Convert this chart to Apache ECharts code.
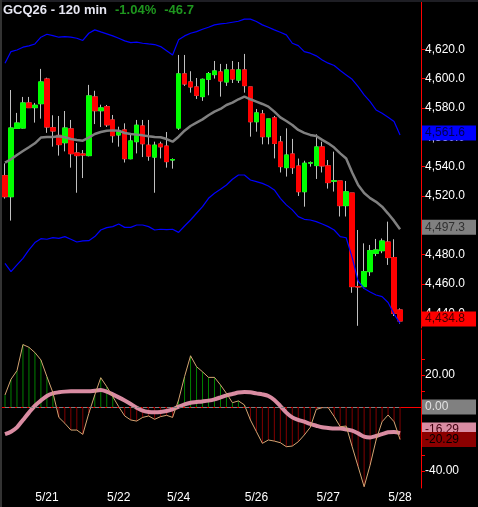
<!DOCTYPE html>
<html>
<head>
<meta charset="utf-8">
<script src="https://cdn.jsdelivr.net/npm/echarts@6/dist/echarts.min.js"></script>
<style>
  html, body { margin: 0; padding: 0; background: #000; }
  #wrap { position: relative; width: 478px; height: 507px; }
  #chart { width: 478px; height: 507px; }
  .edge-top { position: absolute; left: 0; top: 0; width: 478px; height: 2px; background: #1e1e24; }
  .edge-left { position: absolute; left: 0; top: 0; width: 2px; height: 507px; background: #333; }
</style>
</head>
<body>
<div id="wrap">
  <div id="chart"></div>
  <div class="edge-top"></div>
  <div class="edge-left"></div>
</div>
<script>
// 120 min bars, 67 candles + 3 empty slots on the right
const slots = 70;
const dayIdx = [7, 19, 29, 42, 54, 66];
const dayNames = ['5/21', '5/22', '5/24', '5/26', '5/27', '5/28'];

const open = [4533.8, 4519.5, 4566.0, 4566.3, 4583.4, 4580.2, 4582.9, 4599.7, 4566.5, 4561.3,
  4556.3, 4565.7, 4549.3, 4548.6, 4547.5, 4587.5, 4578.1, 4580.8, 4571.8, 4561.6,
  4565.0, 4545.4, 4557.0, 4567.7, 4554.6, 4546.5, 4555.4, 4554.0, 4544.5, 4566.3,
  4603.2, 4597.7, 4594.3, 4587.7, 4599.5, 4602.7, 4604.5, 4597.7, 4605.9, 4599.0,
  4605.9, 4594.3, 4570.6, 4575.9, 4560.4, 4573.2, 4556.8, 4539.3, 4548.6, 4540.4,
  4522.9, 4542.4, 4540.7, 4553.4, 4540.5, 4530.1, 4530.2, 4513.4, 4522.0, 4458.2,
  4458.2, 4468.4, 4480.9, 4482.7, 4488.6, 4478.0, 4442.3];
const close = [4519.5, 4566.3, 4569.7, 4583.4, 4580.2, 4581.8, 4597.7, 4567.0, 4564.3, 4555.0,
  4566.3, 4548.8, 4547.5, 4547.9, 4588.2, 4578.1, 4580.0, 4568.5, 4561.1, 4563.6,
  4545.4, 4557.5, 4568.2, 4555.6, 4547.2, 4554.6, 4553.5, 4543.4, 4544.8, 4603.2,
  4596.3, 4594.3, 4588.6, 4599.5, 4603.4, 4605.2, 4598.4, 4605.9, 4599.7, 4605.9,
  4595.2, 4570.6, 4576.6, 4560.4, 4572.5, 4555.8, 4540.0, 4547.9, 4539.3, 4522.9,
  4542.3, 4542.6, 4553.4, 4540.5, 4529.1, 4530.3, 4513.4, 4522.8, 4458.2, 4458.0,
  4468.4, 4482.7, 4483.2, 4489.3, 4478.0, 4440.0, 4434.8];
const low = [4518.2, 4503.2, 4565.9, 4566.0, 4580.0, 4570.0, 4572.7, 4563.0, 4553.6, 4547.5,
  4550.4, 4539.3, 4522.2, 4532.2, 4547.0, 4569.0, 4567.0, 4567.0, 4556.3, 4553.6,
  4542.8, 4545.0, 4549.0, 4546.5, 4544.0, 4522.2, 4545.6, 4539.3, 4538.6, 4565.0,
  4595.0, 4590.4, 4586.1, 4584.8, 4588.6, 4600.0, 4587.7, 4595.0, 4597.0, 4597.0,
  4590.4, 4560.4, 4563.8, 4555.2, 4555.2, 4545.6, 4536.0, 4533.2, 4535.0, 4520.0,
  4512.7, 4540.0, 4531.6, 4536.0, 4525.0, 4523.0, 4506.0, 4506.0, 4454.0, 4431.5,
  4457.0, 4465.5, 4479.0, 4481.0, 4473.0, 4438.2, 4433.0];
const high = [4542.2, 4592.2, 4576.6, 4587.5, 4587.5, 4583.4, 4606.6, 4600.6, 4575.0, 4574.5,
  4577.9, 4571.8, 4556.1, 4551.3, 4595.7, 4591.7, 4582.2, 4582.0, 4575.2, 4567.2,
  4569.5, 4562.5, 4571.8, 4571.8, 4571.8, 4557.0, 4557.0, 4563.6, 4545.6, 4616.1,
  4616.1, 4605.0, 4600.4, 4600.0, 4604.5, 4612.0, 4610.0, 4610.0, 4612.0, 4611.3,
  4616.8, 4594.3, 4579.3, 4578.6, 4572.5, 4574.5, 4560.9, 4566.1, 4558.9, 4545.5,
  4544.0, 4543.5, 4562.0, 4557.0, 4544.5, 4550.2, 4530.2, 4530.2, 4522.0, 4496.8,
  4487.7, 4486.6, 4490.7, 4491.0, 4502.5, 4490.5, 4443.4];

const bbUpper = [4610.5, 4618.4, 4619.5, 4621.4, 4622.3, 4623.6, 4628.2, 4630.2, 4629.3, 4628.2,
  4628.6, 4628.2, 4627.5, 4626.0, 4630.9, 4633.2, 4631.8, 4630.5, 4629.1, 4627.5,
  4625.7, 4624.5, 4624.8, 4624.1, 4623.6, 4623.2, 4621.8, 4619.0, 4616.1, 4626.4,
  4629.1, 4630.9, 4632.0, 4633.6, 4635.0, 4636.6, 4637.3, 4637.7, 4638.4, 4639.1,
  4640.5, 4640.5, 4638.9, 4636.6, 4635.0, 4633.2, 4631.6, 4629.8, 4624.1, 4622.5,
  4618.4, 4617.3, 4615.5, 4612.7, 4610.5, 4608.9, 4605.5, 4602.5, 4599.5, 4594.5,
  4588.9, 4584.3, 4578.6, 4576.4, 4573.6, 4570.7, 4561.6];
const bbLower = [4474.1, 4468.4, 4473.0, 4477.5, 4483.2, 4488.2, 4490.9, 4490.5, 4491.6, 4491.1,
  4492.3, 4490.5, 4488.6, 4489.4, 4489.5, 4492.3, 4496.8, 4498.4, 4499.1, 4500.9,
  4498.6, 4498.6, 4500.2, 4500.2, 4499.1, 4496.8, 4497.3, 4497.0, 4497.3, 4495.2,
  4499.5, 4503.6, 4508.2, 4512.7, 4518.4, 4521.8, 4524.5, 4527.5, 4531.4, 4534.3,
  4534.3, 4530.9, 4529.8, 4528.6, 4526.8, 4524.1, 4518.4, 4513.9, 4510.5, 4505.9,
  4504.1, 4503.6, 4502.5, 4500.9, 4499.1, 4496.8, 4492.3, 4491.5, 4478.0, 4462.0,
  4457.0, 4454.5, 4452.5, 4451.4, 4447.4, 4439.5, 4433.2];
const ma = [4542.7, 4545.0, 4547.9, 4550.6, 4553.2, 4555.9, 4559.8, 4560.2, 4560.2, 4560.7,
  4560.0, 4558.8, 4558.2, 4557.7, 4559.8, 4562.2, 4563.6, 4564.5, 4564.7, 4564.5,
  4562.9, 4562.2, 4561.8, 4561.3, 4560.7, 4560.2, 4560.0, 4558.8, 4557.0, 4560.4,
  4564.5, 4567.7, 4570.0, 4572.2, 4575.0, 4577.5, 4579.3, 4582.0, 4583.6, 4585.9,
  4587.7, 4585.9, 4584.3, 4582.7, 4580.9, 4577.5, 4573.6, 4571.1, 4568.4, 4565.0,
  4563.0, 4561.6, 4560.9, 4558.2, 4555.9, 4553.0, 4549.0, 4545.5, 4536.0, 4527.5,
  4522.0, 4518.5, 4516.0, 4512.7, 4508.0, 4503.0, 4497.3];

const macd = [7.5, 17.3, 22.7, 39.0, 37.3, 34.0, 29.4, 19.0, 9.0, -6.5,
  -10.2, -14.4, -14.4, -17.1, -4.0, 7.5, 18.3, 12.7, 6.5, 0.2,
  -5.6, -8.1, -8.8, -6.5, -5.6, -7.7, -6.0, -5.2, -6.5, 4.4,
  19.0, 32.0, 25.2, 22.0, 18.5, 18.5, 13.8, 8.5, 2.7, 3.8,
  1.3, -8.1, -15.4, -22.7, -20.6, -21.3, -22.3, -24.8, -24.4, -21.7,
  -17.5, -12.7, -1.5, -0.4, -0.4, -6.0, -12.3, -11.9, -24.8, -37.3,
  -49.8, -36.3, -20.6, -9.2, -5.0, -9.2, -20.29];
const signal = [-16.9, -15.4, -12.7, -8.1, -3.5, 0.8, 4.0, 6.9, 8.5, 9.2,
  9.6, 9.8, 9.8, 9.8, 9.8, 10.2, 10.6, 9.6, 7.9, 6.0,
  4.0, 1.9, -0.4, -2.3, -3.1, -3.3, -3.1, -2.5, -1.5, 0.2,
  1.7, 2.7, 3.1, 3.5, 4.0, 4.8, 6.0, 7.3, 8.1, 9.0,
  9.4, 9.2, 8.5, 7.9, 6.9, 4.4, 0.6, -3.5, -6.5, -8.1,
  -9.2, -10.6, -11.7, -12.7, -13.1, -13.5, -13.5, -14.0, -14.8, -16.5,
  -18.5, -19.0, -18.1, -16.9, -15.8, -15.6, -16.29];

const priceTicks = [4440, 4460, 4480, 4500, 4520, 4540, 4560, 4580, 4600, 4620];
const macdTicks = [-40, -30, -20, -10, 0, 10, 20, 30];
const macdLabels = [-40, -20, 0, 20];

const FONT = '"Liberation Sans", Arial, sans-serif';
const last = close.length - 1;
const cats = Array.from({ length: slots }, (_, i) => String(i));
const fmtPrice = v => v.toLocaleString('en-US', { minimumFractionDigits: 1, maximumFractionDigits: 1 });

function tag(bg, fg, text, offsetY) {
  return {
    show: true,
    position: 'end',
    distance: 1,
    formatter: text,
    backgroundColor: bg,
    color: fg,
    padding: [2, 3, 1, 3],
    width: 48,
    fontSize: 12,
    fontFamily: FONT,
    offset: [0, offsetY || 0]
  };
}

function marker(value, bg, fg, text, offsetY) {
  return {
    silent: true,
    symbol: 'none',
    lineStyle: { color: 'transparent', width: 0 },
    label: tag(bg, fg, text, offsetY),
    data: [{ yAxis: value }]
  };
}

const chart = echarts.init(document.getElementById('chart'));

const option = {
  backgroundColor: '#000',
  animation: false,
  title: {
    left: 3,
    top: 4,
    padding: 0,
    text: '{a|GCQ26 - 120 min}{b|-1.04%}{b|-46.7}',
    textStyle: {
      rich: {
        a: { color: '#e6e6f2', fontSize: 13, fontFamily: FONT },
        b: { color: '#1e961e', fontSize: 13, fontFamily: FONT, padding: [0, 0, 0, 8] }
      }
    }
  },
  grid: [
    { left: 2, right: 57, top: 2, height: 326 },
    { left: 2, right: 57, top: 330, height: 158 }
  ],
  xAxis: [
    {
      gridIndex: 0,
      type: 'category',
      data: cats,
      axisLine: { show: false },
      axisTick: { show: false },
      axisLabel: { show: false }
    },
    {
      gridIndex: 1,
      type: 'category',
      data: cats,
      axisLine: { lineStyle: { color: '#ff0000', width: 1 } },
      axisTick: {
        alignWithLabel: true,
        length: 5,
        interval: idx => dayIdx.includes(idx),
        lineStyle: { color: '#ff0000' }
      },
      axisLabel: {
        interval: idx => dayIdx.includes(idx),
        formatter: (v, idx) => dayNames[dayIdx.indexOf(idx)] || '',
        color: '#fff',
        fontSize: 12,
        fontFamily: FONT,
        margin: 4
      }
    }
  ],
  yAxis: [
    {
      gridIndex: 0,
      position: 'right',
      z: 0,
      min: 4430,
      max: 4652.2,
      axisLine: { show: true, onZero: false, lineStyle: { color: '#ff0000', width: 1 } },
      axisTick: { show: true, length: 4, customValues: priceTicks, lineStyle: { color: '#ff0000' } },
      axisLabel: {
        customValues: priceTicks,
        formatter: fmtPrice,
        color: '#fff',
        fontSize: 12,
        fontFamily: FONT,
        margin: 4
      },
      splitLine: { show: false }
    },
    {
      gridIndex: 1,
      position: 'right',
      z: 0,
      min: -50.6,
      max: 48.1,
      axisLine: { show: true, onZero: false, lineStyle: { color: '#ff0000', width: 1 } },
      axisTick: { show: true, length: 4, customValues: macdTicks, lineStyle: { color: '#ff0000' } },
      axisLabel: {
        customValues: macdLabels,
        formatter: v => v.toFixed(2),
        color: '#fff',
        fontSize: 12,
        fontFamily: FONT,
        margin: 4
      },
      splitLine: { show: false }
    }
  ],
  series: [
    {
      name: 'wicks',
      type: 'candlestick',
      xAxisIndex: 0,
      yAxisIndex: 0,
      barWidth: 5,
      data: open.map((o, i) => [o, close[i], low[i], high[i]]),
      itemStyle: {
        color: '#00ff00', color0: '#ff0000',
        borderColor: '#c0c0c0', borderColor0: '#c0c0c0', borderWidth: 1
      }
    },
    {
      name: 'upper',
      type: 'line',
      xAxisIndex: 0,
      yAxisIndex: 0,
      data: bbUpper,
      symbol: 'none',
      clip: false,
      lineStyle: { color: '#0000ff', width: 1.2 },
      markLine: marker(bbUpper[last], '#0000ff', '#000050', fmtPrice(bbUpper[last]), -2)
    },
    {
      name: 'lower',
      type: 'line',
      xAxisIndex: 0,
      yAxisIndex: 0,
      data: bbLower,
      symbol: 'none',
      lineStyle: { color: '#0000ff', width: 1.2 }
    },
    {
      name: 'ma',
      type: 'line',
      xAxisIndex: 0,
      yAxisIndex: 0,
      data: ma,
      symbol: 'none',
      clip: false,
      lineStyle: { color: '#808080', width: 2.5 },
      markLine: marker(ma[last], '#808080', '#303030', fmtPrice(ma[last]), -2)
    },
    {
      name: 'bodies',
      type: 'candlestick',
      xAxisIndex: 0,
      yAxisIndex: 0,
      barWidth: 5,
      clip: false,
      data: open.map((o, i) => [o, close[i], Math.min(o, close[i]), Math.max(o, close[i])]),
      itemStyle: {
        color: '#00ff00', color0: '#ff0000',
        borderColor: '#00ff00', borderColor0: '#ff0000', borderWidth: 1
      },
      markLine: marker(close[last], '#ff0000', '#400000', fmtPrice(close[last]), -2)
    },
    {
      name: 'hist',
      type: 'bar',
      xAxisIndex: 1,
      yAxisIndex: 1,
      data: macd,
      barWidth: 1,
      clip: false,
      itemStyle: { color: p => (p.value >= 0 ? '#008000' : '#800000') },
      markLine: {
        silent: true,
        symbol: 'none',
        data: [
          [
            { coord: [0, 0], lineStyle: { color: '#808080', width: 1 }, label: { show: false } },
            { coord: [last, 0] }
          ],
          {
            yAxis: 0,
            lineStyle: { color: 'transparent', width: 0 },
            label: tag('#808080', '#e0e0e0', '0.00')
          }
        ]
      }
    },
    {
      name: 'signal',
      type: 'line',
      xAxisIndex: 1,
      yAxisIndex: 1,
      data: signal,
      symbol: 'none',
      clip: false,
      smooth: 0.3,
      lineStyle: { color: '#d98ca2', width: 4 },
      markLine: marker(signal[last], '#d98ca2', '#400010', signal[last].toFixed(2), -3)
    },
    {
      name: 'macd',
      type: 'line',
      xAxisIndex: 1,
      yAxisIndex: 1,
      data: macd,
      symbol: 'none',
      clip: false,
      lineStyle: { color: '#d4a472', width: 1 },
      markLine: marker(macd[last], '#8b0000', '#000', macd[last].toFixed(2))
    }
  ]
};

chart.setOption(option);
</script>
</body>
</html>
